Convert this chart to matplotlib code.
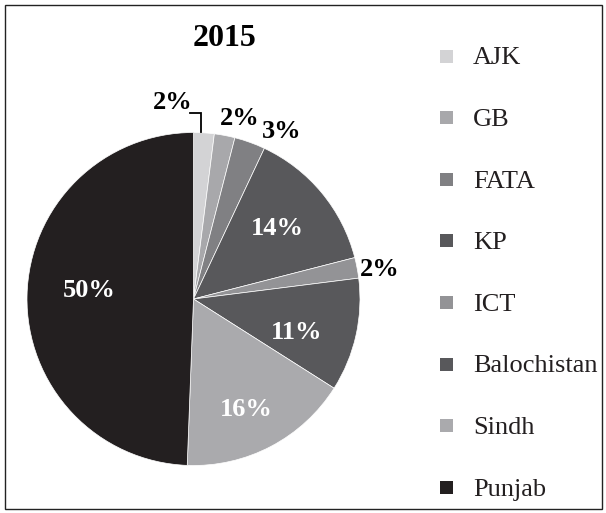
import numpy as np
import matplotlib
matplotlib.use("Agg")
import matplotlib.pyplot as plt
from matplotlib.patches import Rectangle

categories = ["AJK", "GB", "FATA", "KP", "ICT", "Balochistan", "Sindh", "Punjab"]
values = [2, 2, 3, 14, 2, 11, 16.6, 49.4]
labels = ["2%", "2%", "3%", "14%", "2%", "11%", "16%", "50%"]
colors = ["#d3d3d5", "#a8a8ab", "#808083", "#58585b", "#939396", "#58585b", "#aaaaad", "#231f20"]
title = "2015"

plt.rcParams['font.family'] = ['Liberation Serif', 'DejaVu Serif']

W, H = 606, 513
fig = plt.figure(figsize=(W / 100, H / 100), dpi=100)
cx, cy, R = 193.5, 299, 166.5
ax = fig.add_axes([(cx - R) / W, (H - cy - R) / H, 2 * R / W, 2 * R / H])
wedges, _ = ax.pie(values, colors=colors, startangle=90, counterclock=False,
                   radius=1, wedgeprops=dict(linewidth=0.5, edgecolor="white"))
ax.set_xlim(-1, 1)
ax.set_ylim(-1, 1)
ax.set_aspect('equal')
ax.axis('off')

# label placement: (angle deg, radius, color)
place = [None, (75.6, 1.122, 'black'), (62.3, 1.139, 'black'), (39.8, 0.657, 'white'),
         (9.1, 1.134, 'black'), (-17.7, 0.652, 'white'), (-64.7, 0.737, 'white'),
         (175.6, 0.630, 'white')]
FS = 19
for w, lab, p in zip(wedges, labels, place):
    if p is None:
        # AJK: bracket leader line
        mid = np.deg2rad((w.theta1 + w.theta2) / 2)
        x0 = np.cos(mid) * 0.75
        ax.plot([x0, x0, -0.021], [1.005, 1.117, 1.117], color='black', lw=1.3,
                clip_on=False, solid_joinstyle='miter')
        ax.text(-0.003, 1.183, lab, ha='right', va='center', fontsize=FS, fontweight='bold',
                color='black', clip_on=False)
        continue
    ang, r, c = p
    a = np.deg2rad(ang)
    ax.text(r * np.cos(a), r * np.sin(a), lab, ha='center', va='center', fontsize=FS,
            fontweight='bold', color=c, clip_on=False)

fig.text(224.5 / W, 1 - 38 / H, title, ha='center', va='center', fontsize=23, fontweight='bold')

# legend (manual rows)
top, step = 56, 61.6
sq = 13
for i, (cat, col) in enumerate(zip(categories, colors)):
    yc = top + i * step
    fig.patches.append(Rectangle(((446.5 - sq / 2) / W, 1 - (yc + sq / 2) / H), sq / W, sq / H,
                                 transform=fig.transFigure, facecolor=col, edgecolor='none'))
    fig.text(473 / W, 1 - (yc + 8.5) / H, cat, ha='left', va='baseline', fontsize=19,
             color='#231f20')

fig.patches.append(Rectangle((4.5 / W, 4.5 / H), (W - 9) / W, (H - 9) / H,
                             transform=fig.transFigure, fill=False, edgecolor='#222222',
                             linewidth=1.0))

fig.savefig("out.png", dpi=100)
